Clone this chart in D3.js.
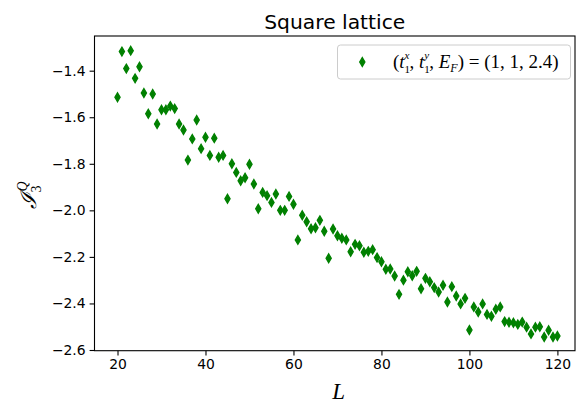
<!DOCTYPE html>
<html><head><meta charset="utf-8">
<script src="https://cdn.jsdelivr.net/npm/d3@7"></script>
<style>body{margin:0;background:#fff}svg{display:block}</style>
</head><body>
<script>
const chartTitle = "Square lattice";
const L = [20,21,22,23,24,25,26,27,28,29,30,31,32,33,34,35,36,37,38,39,40,41,42,43,44,45,46,47,48,49,50,51,52,53,54,55,56,57,58,59,60,61,62,63,64,65,66,67,68,69,70,71,72,73,74,75,76,77,78,79,80,81,82,83,84,85,86,87,88,89,90,91,92,93,94,95,96,97,98,99,100,101,102,103,104,105,106,107,108,109,110,111,112,113,114,115,116,117,118,119,120];
const I3Q = [-1.514,-1.318,-1.391,-1.314,-1.433,-1.383,-1.496,-1.585,-1.500,-1.629,
  -1.568,-1.568,-1.552,-1.563,-1.629,-1.655,-1.784,-1.693,-1.612,-1.735,
  -1.686,-1.764,-1.690,-1.772,-1.764,-1.950,-1.800,-1.837,-1.873,-1.860,
  -1.802,-1.887,-1.993,-1.923,-1.937,-1.966,-1.930,-2.000,-2.000,-1.940,
  -1.974,-2.127,-2.021,-2.049,-2.079,-2.075,-2.043,-2.090,-2.206,-2.080,
  -2.109,-2.120,-2.127,-2.178,-2.146,-2.152,-2.180,-2.176,-2.169,-2.203,
  -2.221,-2.253,-2.252,-2.282,-2.361,-2.300,-2.264,-2.281,-2.262,-2.337,
  -2.292,-2.307,-2.332,-2.351,-2.322,-2.394,-2.328,-2.368,-2.402,-2.378,
  -2.514,-2.415,-2.437,-2.402,-2.447,-2.455,-2.425,-2.415,-2.478,-2.481,
  -2.483,-2.490,-2.480,-2.502,-2.531,-2.502,-2.500,-2.544,-2.515,-2.544,-2.540];
const xTicks = [20,40,60,80,100,120];
const yTicks = [-1.4,-1.6,-1.8,-2.0,-2.2,-2.4,-2.6];

const W = 580, H = 403;
const pL = 94.5, pR = 575, pT = 36, pB = 350.7;
const svg = d3.select("body").append("svg").attr("width", W).attr("height", H);

const x = d3.scaleLinear().domain([14.77, 124.0]).range([pL, pR]);
const y = d3.scaleLinear().domain([-1.251, -2.603]).range([pT, pB]);

const fmt = d => d.toFixed(1).replace("-", "\u2212");

// axes
const xAxis = svg.append("g").attr("transform", `translate(0,${pB})`)
  .call(d3.axisBottom(x).tickValues(xTicks).tickSize(4.9).tickPadding(4).tickFormat(d3.format("d")));
const yAxis = svg.append("g").attr("transform", `translate(${pL},0)`)
  .call(d3.axisLeft(y).tickValues(yTicks).tickSize(4.9).tickPadding(4).tickFormat(fmt));
[xAxis, yAxis].forEach(g => {
  g.select(".domain").remove();
  g.selectAll("line").attr("stroke", "#000").attr("stroke-width", 1.1);
  g.selectAll("text").attr("font-family", "DejaVu Sans").attr("font-size", 13.9).attr("fill", "#000");
});

// frame
svg.append("rect").attr("x", pL).attr("y", pT).attr("width", pR - pL).attr("height", pB - pT)
  .attr("fill", "none").attr("stroke", "#000").attr("stroke-width", 1.1);

// thin diamond marker
const hw = 2.6, hh = 4.4;
const diamond = `M0,${-hh}L${hw},0L0,${hh}L${-hw},0Z`;
svg.append("g").selectAll("path").data(L.map((l, i) => [l, I3Q[i]])).join("path")
  .attr("d", diamond)
  .attr("transform", d => `translate(${x(d[0])},${y(d[1])})`)
  .attr("fill", "#008000").attr("stroke", "#008000").attr("stroke-width", 1.3);

// title
svg.append("text").attr("x", (pL + pR) / 2).attr("y", 28.5).attr("text-anchor", "middle")
  .attr("font-family", "DejaVu Sans").attr("font-size", 20.3).text(chartTitle);

// x label
svg.append("text").attr("x", (pL + pR) / 2 + 4).attr("y", 399).attr("text-anchor", "middle")
  .attr("font-family", "Liberation Serif").attr("font-style", "italic").attr("font-size", 23).text("L");

// y label
const yl = svg.append("text").attr("transform", "translate(36,195) rotate(-90)").attr("text-anchor", "middle")
  .attr("font-family", "DejaVu Serif").attr("font-size", 22);
yl.append("tspan").attr("font-style", "italic").text("\u2110");
yl.append("tspan").attr("font-size", 14).attr("dy", 5).attr("font-family", "Liberation Serif").text("3");
yl.append("tspan").attr("font-size", 14).attr("dx", -6).attr("dy", -14).attr("font-family", "Liberation Serif").attr("font-style", "italic").text("Q");

// legend
svg.append("rect").attr("x", 337.5).attr("y", 45).attr("width", 233).attr("height", 34).attr("rx", 3)
  .attr("fill", "#fff").attr("fill-opacity", 0.8).attr("stroke", "#ccc").attr("stroke-width", 1);
svg.append("path").attr("d", diamond).attr("transform", "translate(362.3,62)")
  .attr("fill", "#008000").attr("stroke", "#008000").attr("stroke-width", 1.3);
const lt = svg.append("text").attr("x", 393).attr("y", 68)
  .attr("font-family", "Liberation Serif").attr("font-size", 19);
const sub = (t) => lt.append("tspan").attr("font-size", 11).attr("dy", 5).text(t);
const sup = (t) => lt.append("tspan").attr("font-size", 11).attr("font-style", "italic").attr("dx", -5.5).attr("dy", -14).text(t);
lt.append("tspan").text("(");
lt.append("tspan").attr("font-style", "italic").text("t");
sub("1"); sup("x");
lt.append("tspan").attr("dy", 9).text(", ");
lt.append("tspan").attr("font-style", "italic").text("t");
sub("1"); sup("y");
lt.append("tspan").attr("dy", 9).text(", ");
lt.append("tspan").attr("font-style", "italic").text("E");
lt.append("tspan").attr("font-size", 12).attr("font-style", "italic").attr("dy", 4).text("F");
lt.append("tspan").attr("dy", -4).text(") = (1, 1, 2.4)");
</script>
</body></html>
